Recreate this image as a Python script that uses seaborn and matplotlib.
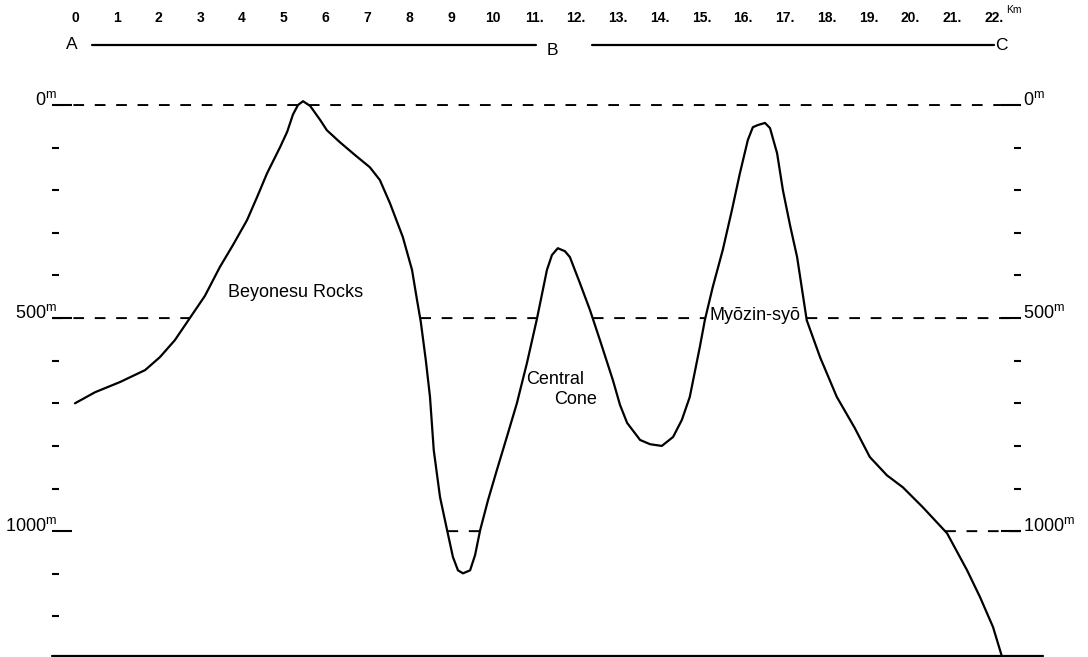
import numpy as np
import matplotlib
matplotlib.use("Agg")
import matplotlib.pyplot as plt
import matplotlib.transforms as mtransforms
import seaborn as sns

# Sea-floor profile along A-B-C: horizontal distance (km) and depth below sea level (m)
dist_km = [0.00, 0.48, 1.08, 1.68, 2.03, 2.39, 2.75, 3.11, 3.47, 3.78,
           4.12, 4.36, 4.60, 4.91, 5.08, 5.22, 5.34, 5.46, 5.63, 5.87,
           6.03, 6.34, 6.70, 7.06, 7.30, 7.54, 7.85, 8.07, 8.19, 8.28,
           8.40, 8.50, 8.59, 8.74, 8.91, 9.05, 9.17, 9.29, 9.46, 9.58,
           9.70, 9.89, 10.10, 10.34, 10.58, 10.82, 11.06, 11.30, 11.42, 11.56,
           11.73, 11.85, 12.09, 12.33, 12.57, 12.88, 13.05, 13.22, 13.53, 13.77,
           14.05, 14.32, 14.53, 14.72, 14.96, 15.08, 15.27, 15.51, 15.73, 15.92,
           16.11, 16.23, 16.35, 16.52, 16.64, 16.81, 16.95, 17.12, 17.29, 17.52,
           17.84, 18.24, 18.67, 19.03, 19.44, 19.82, 20.30, 20.88, 21.36, 21.67,
           21.98, 22.19]
depth_m = [700, 674, 650, 622, 592, 552, 500, 448, 380, 329,
           270, 216, 160, 99, 63, 22, 0, -9, 2, 35,
           59, 87, 117, 146, 176, 230, 310, 387, 458, 509,
           599, 685, 810, 920, 998, 1061, 1092, 1099, 1092, 1056,
           998, 927, 857, 779, 700, 606, 502, 387, 352, 336,
           343, 357, 418, 481, 552, 646, 704, 746, 786, 796,
           800, 779, 739, 685, 568, 505, 427, 340, 246, 160,
           82, 52, 47, 42, 54, 113, 200, 282, 357, 505,
           592, 685, 758, 826, 869, 897, 944, 1005, 1092, 1155,
           1225, 1293]

# Depth scale
level_m = [0, 500, 1000]
minor_left_m = [100, 200, 300, 400, 600, 700, 800, 900, 1100, 1200]
minor_right_m = [100, 200, 300, 400, 600, 700, 800, 900]

# Distance scale along the top
km_ticks = list(range(23))
km_labels = [str(k) for k in range(11)] + [f"{k}." for k in range(11, 23)]

# Named features on the profile
feature_names = ["Beyonesu Rocks", "Central", "Cone", "Myōzin-syō"]
feature_km = [3.66, 10.80, 11.47, 15.20]
feature_depth = [451, 655, 702, 505]

sns.set_theme(style="white")
plt.rcParams["font.family"] = ["Liberation Sans", "DejaVu Sans"]
plt.rcParams["mathtext.fontset"] = "custom"
plt.rcParams["mathtext.rm"] = "Liberation Sans"

fig = plt.figure(figsize=(10.88, 6.57), dpi=100)
ax = fig.add_axes([52 / 1088, 1 / 657, 969 / 1088, 656 / 657])
x_lo, x_hi = -0.55, 22.65
y_bottom, y_top = 1293, -246.5

sns.lineplot(x=dist_km, y=depth_m, sort=False, estimator=None,
             color="black", linewidth=1.6, ax=ax)

# Contour levels drawn only where the sea floor lies deeper than the level
x_fine = np.linspace(x_lo, x_hi, 4000)
floor = np.interp(x_fine, dist_km, depth_m)
for lev in level_m:
    y = np.where(floor > lev, lev, np.nan)
    ax.plot(x_fine, y, color="black", linewidth=1.4, linestyle=(0, (5.5, 5.5)))

ax.set_xlim(x_lo, x_hi)
ax.set_ylim(y_bottom, y_top)
ax.set_xticks([])
ax.set_yticks(level_m)
ax.set_yticks(minor_left_m, minor=True)
ax.tick_params(axis="y", which="major", direction="in", length=14.5, width=1.5,
               color="black", left=True, labelleft=False)
ax.tick_params(axis="y", which="minor", direction="in", length=5, width=1.5,
               color="black", left=True)
sns.despine(ax=ax, left=True, right=True, top=True, bottom=True)

ax2 = ax.twinx()
ax2.set_ylim(y_bottom, y_top)
ax2.set_yticks(level_m)
ax2.set_yticks(minor_right_m, minor=True)
ax2.tick_params(axis="y", which="major", direction="in", length=14.5, width=1.5,
                color="black", right=True, labelright=False)
ax2.tick_params(axis="y", which="minor", direction="in", length=5, width=1.5,
                color="black", right=True)
sns.despine(ax=ax2, left=True, right=True, top=True, bottom=True)

# Base line of the section
ax.axhline(y_bottom, xmin=0, xmax=1.023, color="black", linewidth=1.6, clip_on=False)

# Depth labels on both sides
trans = mtransforms.blended_transform_factory(ax.transAxes, ax.transData)
for lev in level_m:
    lab = f"{lev}$^{{\\rm m}}$"
    ax.text(0.005, lev, lab, transform=trans, ha="right", va="baseline",
            fontsize=13, color="black")
    ax.text(1.002, lev, lab, transform=trans, ha="left", va="baseline",
            fontsize=13, color="black", clip_on=False)

# Distance scale and section line A-B-C
for k, lab in zip(km_ticks, km_labels):
    ax.text(k, -204, lab, ha="center", va="center", fontsize=10,
            fontweight="bold", color="black")
ax.text(22.3, -224, "Km", ha="left", va="center", fontsize=7.5, color="black")
ax.plot([0.41, 11.04], [-141, -141], color="black", linewidth=1.6)
ax.plot([12.38, 22.0], [-141, -141], color="black", linewidth=1.6)
ax.text(-0.07, -141, "A", ha="center", va="center", fontsize=12.5, color="black")
ax.text(11.42, -129, "B", ha="center", va="center", fontsize=12.5, color="black")
ax.text(22.17, -139, "C", ha="center", va="center", fontsize=12.5, color="black")

for name, xk, yd in zip(feature_names, feature_km, feature_depth):
    ax.text(xk, yd, name, ha="left", va="baseline", fontsize=13, color="black")

fig.savefig("out.png", dpi=100, facecolor="white")
